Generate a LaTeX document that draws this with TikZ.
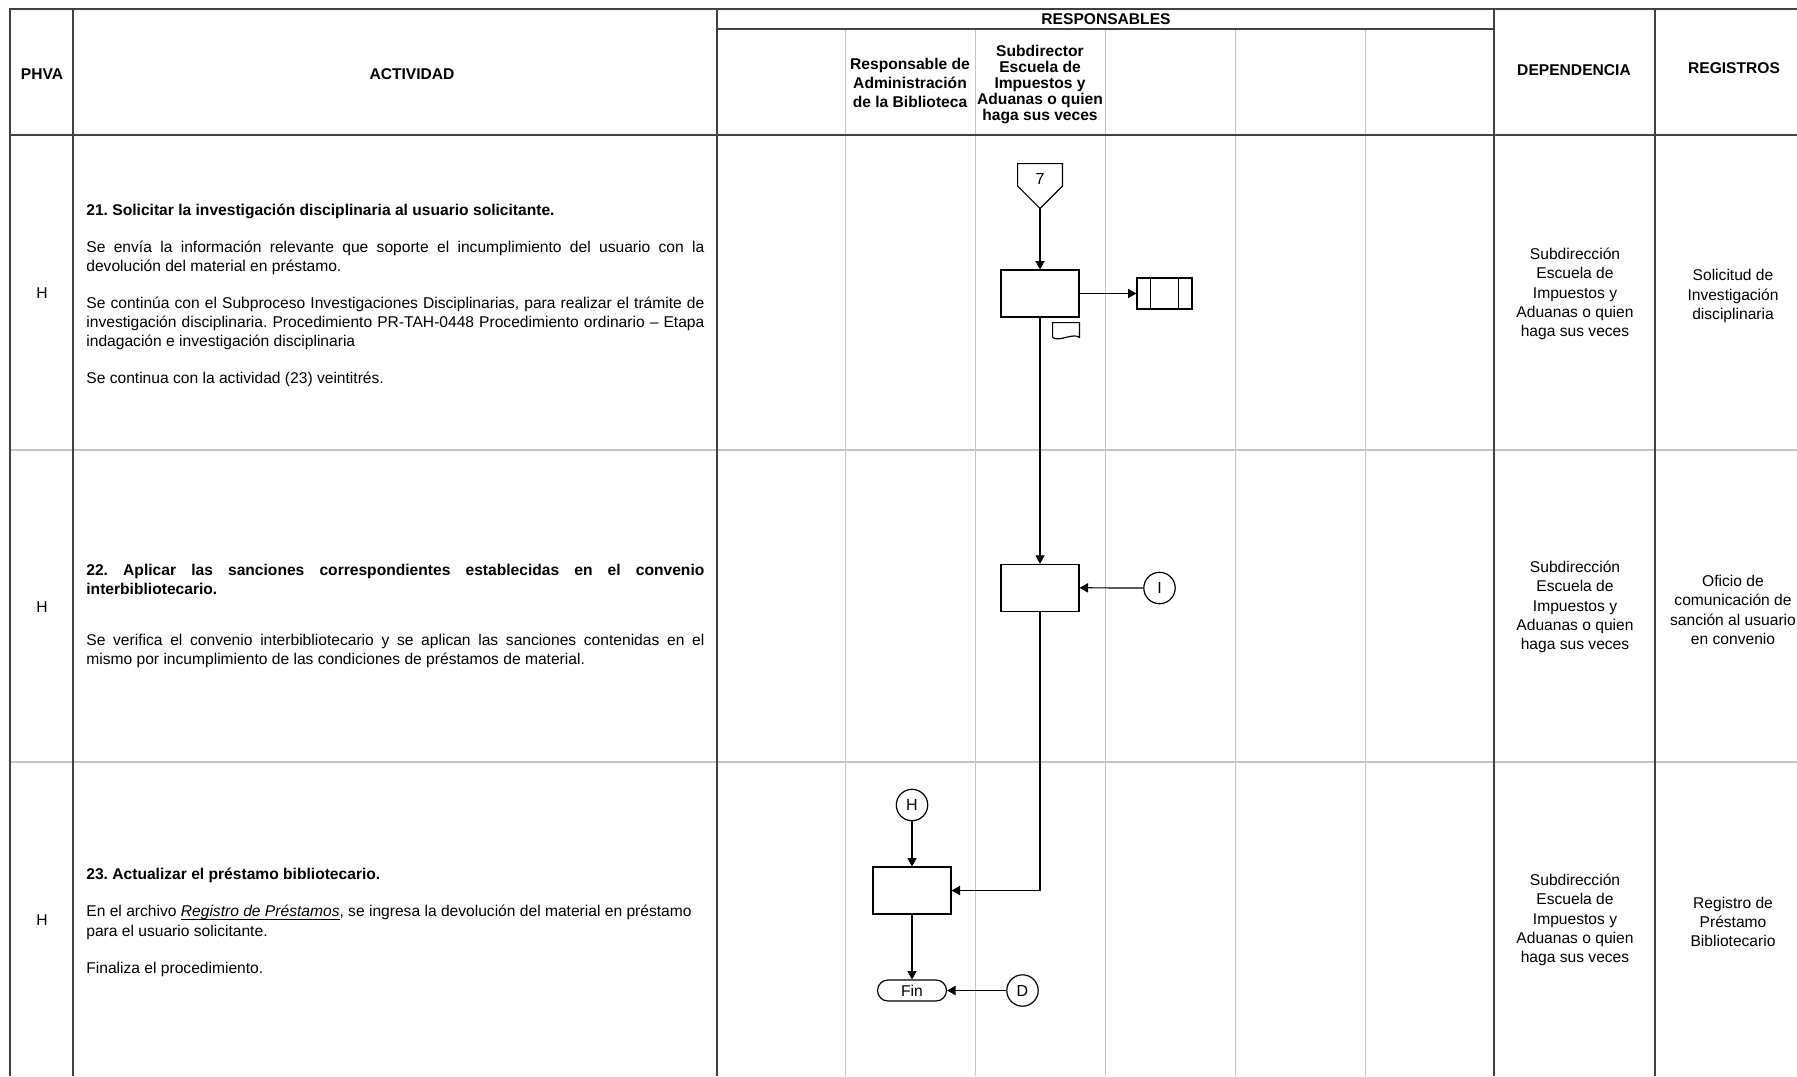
\documentclass[tikz,border=0pt]{standalone}
\usepackage{fontspec}
\setmainfont{Liberation Sans}
\usepackage{tikz}
\usetikzlibrary{arrows.meta,calc}
\definecolor{tabdark}{HTML}{404040}
\definecolor{tablane}{HTML}{C4C4C4}
\frenchspacing

\begin{document}
\begin{tikzpicture}[x=0.5pt,y=-0.5pt,
  tabline/.style={draw=tabdark,line width=0.9pt},
  lane/.style={draw=tablane,line width=0.6pt},
  colhead/.style={font=\bfseries\fontsize{7.8}{9.5}\selectfont,align=center,inner sep=0pt},
  cell/.style={font=\fontsize{7.8}{9.65}\selectfont,align=center,inner sep=0pt},
  act/.style={font=\fontsize{7.8}{9.6}\selectfont,text width=309pt,align=justify,anchor=base west,inner sep=0pt},
  proc/.style={draw,line width=0.6pt,minimum width=39pt,minimum height=23.5pt,inner sep=0pt},
  conn/.style={draw,circle,line width=0.6pt,minimum size=15.7pt,inner sep=0pt,font=\fontsize{8}{9}\selectfont},
  offpage/.style={minimum width=22pt,minimum height=22pt,inner sep=0pt},
  docsym/.style={minimum width=13pt,minimum height=7pt,inner sep=0pt},
  subproc/.style={draw,line width=0.6pt,minimum width=27.5pt,minimum height=15.5pt,inner sep=0pt},
  term/.style={draw,line width=0.6pt,rounded corners=5.25pt,minimum width=34.5pt,minimum height=10.5pt,inner sep=0pt,font=\fontsize{7.8}{9}\selectfont},
  arrow/.style={-{Triangle[length=4.2pt,width=4.6pt]},line width=0.6pt}
]
\fill[white] (0,0) rectangle (1797,1076);
\useasboundingbox (0,0) rectangle (1797,1076);

% tabla
\foreach \x in {845.5,975.5,1105.5,1235.5,1365.5}
  \draw[lane] (\x,29) -- (\x,1076);
\foreach \y in {450,762}
  \draw[lane] (10,\y) -- (1797,\y);
\draw[tabline] (1797,9) -- (10,9) -- (10,1076);
\foreach \x in {73,717,1494,1655}
  \draw[tabline] (\x,9) -- (\x,1076);
\draw[tabline] (717,29) -- (1494,29);
\draw[tabline,line width=1.2pt] (10,135) -- (1797,135);

\node[colhead] (phva) at (42,74) {PHVA};
\node[colhead] (activ) at (412,74) {ACTIVIDAD};
\node[colhead] (resp) at (1106,19) {RESPONSABLES};
\node[colhead] (lanebib) at (910,83) {Responsable de\\Administración\\de la Biblioteca};
\node[colhead,font=\bfseries\fontsize{7.8}{8}\selectfont] (lanesub) at (1040,84) {Subdirector\\Escuela de\\Impuestos y\\Aduanas o quien\\haga sus veces};
\node[colhead] (depend) at (1574,70) {DEPENDENCIA};
\node[colhead] (regist) at (1734,68) {REGISTROS};

% actividad 21
\node[cell] (h21) at (42,293) {H};
\node[act] (act21) at (86,215.3) {\textbf{21. Solicitar la investigación disciplinaria al usuario solicitante.}\\[8.8pt]
Se envía la información relevante que soporte el incumplimiento del usuario con la\linebreak devolución del material en préstamo.\\[8.8pt]
Se continúa con el Subproceso Investigaciones Disciplinarias, para realizar el trámite de\linebreak investigación disciplinaria. Procedimiento PR-TAH-0448 Procedimiento ordinario – Etapa\linebreak indagación e investigación disciplinaria\\[9pt]
Se continua con la actividad (23) veintitrés.};
\node[cell] (dep21) at (1575,294) {Subdirección\\Escuela de\\Impuestos y\\Aduanas o quien\\haga sus veces};
\node[cell] (reg21) at (1733,296) {Solicitud de\\Investigación\\disciplinaria};

% actividad 22
\node[cell] (h22) at (42,607) {H};
\node[act] (act22) at (86,575.2) {\textbf{22. Aplicar las sanciones correspondientes establecidas en el convenio\linebreak interbibliotecario.}\\[16pt]
Se verifica el convenio interbibliotecario y se aplican las sanciones contenidas en el\linebreak mismo por incumplimiento de las condiciones de préstamos de material.};
\node[cell] (dep22) at (1575,607) {Subdirección\\Escuela de\\Impuestos y\\Aduanas o quien\\haga sus veces};
\node[cell] (reg22) at (1733,610) {Oficio de\\comunicación de\\sanción al usuario\\en convenio};

% actividad 23
\node[cell] (h23) at (42,920) {H};
\node[act] (act23) at (86,879) {\textbf{23. Actualizar el préstamo bibliotecario.}\\[9.3pt]
En el archivo $\underline{\smash{\textit{Registro de Préstamos}}}$, se ingresa la devolución del material en préstamo\\
para el usuario solicitante.\\[9.3pt]
Finaliza el procedimiento.};
\node[cell] (dep23) at (1575,920) {Subdirección\\Escuela de\\Impuestos y\\Aduanas o quien\\haga sus veces};
\node[cell] (reg23) at (1733,922) {Registro de\\Préstamo\\Bibliotecario};

% flujo
\node[offpage,label={[yshift=3.5pt,font=\fontsize{8}{9}\selectfont]center:7}] (off7) at (1040,186) {};
\draw[line width=0.6pt] (off7.north west) -- (off7.north east) -- (off7.east) -- (off7.south) -- (off7.west) -- cycle;
\node[proc] (box21) at (1040,293.5) {};
\node[subproc] (sub21) at (1164.5,293.5) {};
\draw[line width=0.6pt] ([xshift=7pt]sub21.north west) -- ([xshift=7pt]sub21.south west);
\draw[line width=0.6pt] ([xshift=-7pt]sub21.north east) -- ([xshift=-7pt]sub21.south east);
\node[docsym] (doc21) at (1066,330) {};
\draw[line width=0.6pt] (doc21.south west) -- (doc21.north west) -- (doc21.north east) -- (doc21.south east) .. controls +(-6,-5) and +(6,5) .. (doc21.south west);
\node[proc] (box22) at (1040,587.8) {};
\node[conn] (conI) at (1159.5,588) {I};
\node[proc] (box23) at (912,890.5) {};
\node[conn] (conH) at (912,805) {H};
\node[term] (fin) at (912,990.5) {Fin};
\node[conn] (conD) at (1022.5,990.5) {D};

\draw[arrow] (off7.south) -- (box21.north);
\draw[arrow] (box21.east) -- (sub21.west);
\draw[arrow] (box21.south) -- (box22.north);
\draw[arrow] (conI.west) -- (box22.east);
\draw[arrow] (box22.south) |- (box23.east);
\draw[arrow] (conH.south) -- (box23.north);
\draw[arrow] (box23.south) -- (fin.north);
\draw[arrow] (conD.west) -- (fin.east);
\end{tikzpicture}
\end{document}
